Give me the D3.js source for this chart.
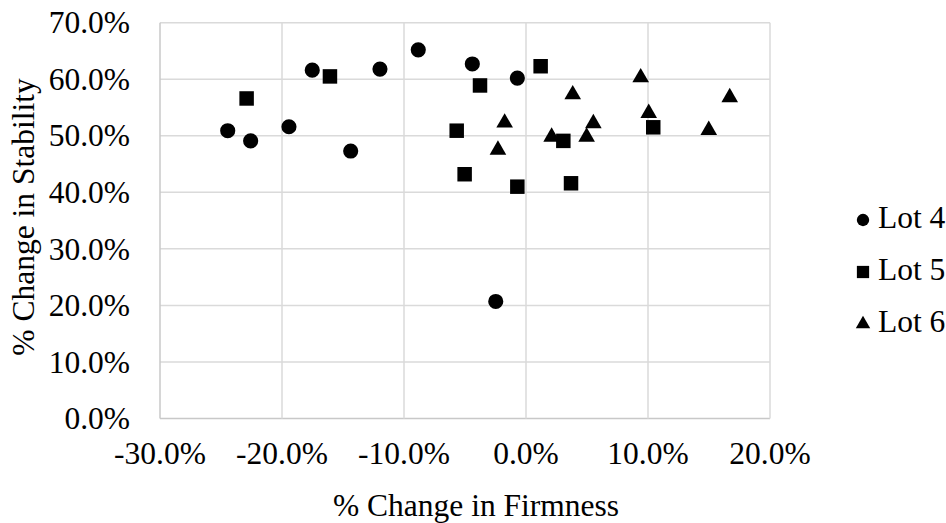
<!DOCTYPE html>
<html>
<head>
<meta charset="utf-8">
<script src="https://cdn.jsdelivr.net/npm/d3@7"></script>
</head>
<body style="margin:0; background:#fff">
<svg id="chart" width="946" height="523" font-family="Liberation Serif, Times New Roman, serif"></svg>
<script>
// % change in firmness (x) and % change in stability (y), per lot
const lot4X = [-24.45, -22.57, -19.43, -17.52, -11.97, -8.83, -4.40, -0.71, -14.37, -2.48];
const lot4Y = [50.9, 49.1, 51.6, 61.6, 61.8, 65.2, 62.7, 60.2, 47.3, 20.7];
const lot5X = [-22.9, -16.07, -3.77, 1.20, -5.68, -5.03, -0.71, 3.69, 3.06, 10.43];
const lot5Y = [56.6, 60.5, 58.9, 62.3, 50.9, 43.2, 41.0, 41.6, 49.1, 51.5];
const lot6X = [3.83, -1.75, -2.30, 2.10, 5.52, 4.97, 9.40, 10.06, 14.98, 16.70];
const lot6Y = [57.3, 52.3, 47.5, 49.8, 52.2, 49.8, 60.3, 54.0, 51.0, 56.8];

const seriesNames = ['Lot 4', 'Lot 5', 'Lot 6'];
const xTicks = [-30, -20, -10, 0, 10, 20];
const yTicks = [0, 10, 20, 30, 40, 50, 60, 70];

const series = [
  { name: seriesNames[0], symbol: d3.symbolCircle, pts: lot4X.map((x, i) => ({ x, y: lot4Y[i] })) },
  { name: seriesNames[1], symbol: d3.symbolSquare, pts: lot5X.map((x, i) => ({ x, y: lot5Y[i] })) },
  { name: seriesNames[2], symbol: d3.symbolTriangle, pts: lot6X.map((x, i) => ({ x, y: lot6Y[i] })) },
];

const svg = d3.select('#chart');
const plot = { left: 160, right: 770, top: 22.7, bottom: 418.5 };

const x = d3.scaleLinear().domain([-30, 20]).range([plot.left, plot.right]);
const y = d3.scaleLinear().domain([0, 70]).range([plot.bottom, plot.top]);
const fmt = d => d.toFixed(1) + '%';

// adds a text node in the serif face used throughout
const label = (sel, str) => sel.append('text')
  .style('font-family', '"Liberation Serif", "Times New Roman", serif')
  .style('font-size', '31.5px')
  .attr('fill', '#000')
  .text(str);

// gridlines
svg.append('g')
  .selectAll('line.hgrid')
  .data(yTicks)
  .join('line')
  .attr('class', 'hgrid')
  .attr('x1', plot.left).attr('x2', plot.right)
  .attr('y1', d => y(d)).attr('y2', d => y(d))
  .attr('stroke', d => d === 0 ? '#c8c8c8' : '#dadada')
  .attr('stroke-width', 1.5);

svg.append('g')
  .selectAll('line.vgrid')
  .data(xTicks)
  .join('line')
  .attr('class', 'vgrid')
  .attr('x1', d => x(d)).attr('x2', d => x(d))
  .attr('y1', plot.top).attr('y2', plot.bottom)
  .attr('stroke', d => d === -30 ? '#c8c8c8' : '#dadada')
  .attr('stroke-width', 1.5);

// tick labels
yTicks.forEach(v => {
  label(svg, fmt(v))
    .attr('x', plot.left - 30).attr('y', y(v))
    .attr('dy', '0.34em')
    .attr('text-anchor', 'end');
});
xTicks.forEach(v => {
  label(svg, fmt(v))
    .attr('x', x(v)).attr('y', plot.bottom + 22)
    .attr('dy', '0.76em')
    .attr('text-anchor', 'middle');
});

// axis titles
label(svg, '% Change in Firmness')
  .attr('x', 476).attr('y', 516)
  .attr('text-anchor', 'middle');

label(svg, '% Change in Stability')
  .attr('transform', 'translate(34,217) rotate(-90)')
  .attr('text-anchor', 'middle');

// points
const sizes = { 'Lot 4': 180, 'Lot 5': 210, 'Lot 6': 120 };
series.forEach(s => {
  svg.append('g')
    .selectAll('path')
    .data(s.pts)
    .join('path')
    .attr('transform', d => `translate(${x(d.x)},${y(d.y)})`)
    .attr('d', d3.symbol().type(s.symbol).size(sizes[s.name]))
    .attr('fill', '#000');
});

// legend
const legend = svg.append('g').attr('transform', 'translate(863,220)');
const legendSizes = { 'Lot 4': 120, 'Lot 5': 150, 'Lot 6': 90 };
series.forEach((s, i) => {
  const row = legend.append('g').attr('transform', `translate(0,${i * 52})`);
  row.append('path')
    .attr('d', d3.symbol().type(s.symbol).size(legendSizes[s.name]))
    .attr('fill', '#000');
  label(row, s.name).attr('x', 15).attr('y', 8);
});
</script>
</body>
</html>
